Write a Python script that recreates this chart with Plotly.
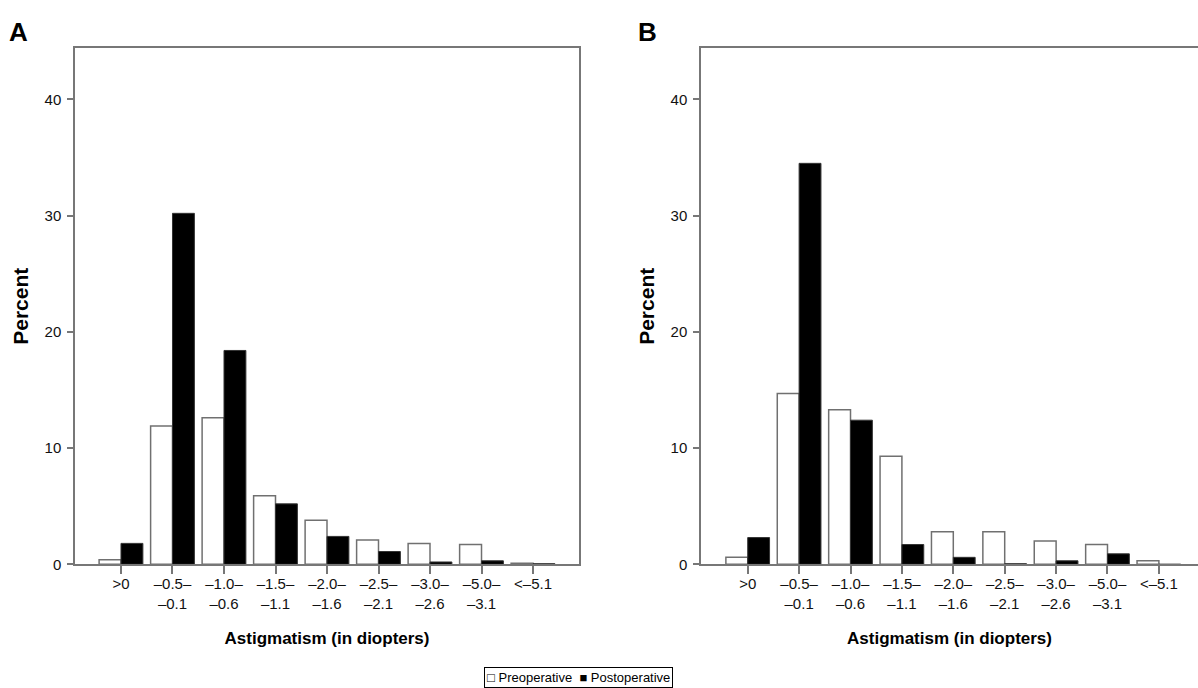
import plotly.graph_objects as go

categories = [">0", "–0.5–<br>–0.1", "–1.0–<br>–0.6", "–1.5–<br>–1.1", "–2.0–<br>–1.6",
              "–2.5–<br>–2.1", "–3.0–<br>–2.6", "–5.0–<br>–3.1", "<–5.1"]

a_pre = [0.4, 11.9, 12.6, 5.9, 3.8, 2.1, 1.8, 1.7, 0.1]
a_post = [1.8, 30.2, 18.4, 5.2, 2.4, 1.1, 0.2, 0.3, 0.05]
b_pre = [0.6, 14.7, 13.3, 9.3, 2.8, 2.8, 2.0, 1.7, 0.3]
b_post = [2.3, 34.5, 12.4, 1.7, 0.6, 0.05, 0.3, 0.9, 0.0]

y_ticks = [0, 10, 20, 30, 40]

W, H = 1198, 696
K = 688 / H  # vertical scale applied when the page is photographed

def px(x):
    return x / W

def py(y):
    return 1 - (y / K) / H

FONT = "Liberation Sans, Arial, sans-serif"
AX = "#777777"

fig = go.Figure()
idx = list(range(len(categories)))

def add_pair(pre, post, xa, ya):
    fig.add_trace(go.Bar(x=idx, y=pre, name="Preoperative", xaxis=xa, yaxis=ya,
                         marker=dict(color="white", line=dict(color="#707070", width=1.5)),
                         showlegend=False))
    fig.add_trace(go.Bar(x=idx, y=post, name="Postoperative", xaxis=xa, yaxis=ya,
                         marker=dict(color="black", line=dict(color="#333333", width=1)),
                         showlegend=False))

add_pair(a_pre, a_post, "x", "y")
add_pair(b_pre, b_post, "x2", "y2")

ydom = [py(564.3), py(48.3)]

common_x = dict(tickmode="array", tickvals=idx, ticktext=categories,
                ticks="outside", ticklen=8, tickcolor=AX, tickwidth=1.5,
                showline=True, linecolor=AX, linewidth=1.5,
                showgrid=False, zeroline=False, ticklabelstandoff=-3,
                tickfont=dict(family=FONT, size=15, color="#111"),
                title=dict(text="<b>Astigmatism (in diopters)</b>",
                           font=dict(family=FONT, size=17, color="#000"), standoff=22))
common_y = dict(tickmode="array", tickvals=y_ticks, ticks="outside", ticklen=6,
                tickcolor=AX, tickwidth=1.5, showline=True, linecolor=AX, linewidth=1.5,
                showgrid=False, zeroline=False, ticklabelstandoff=3,
                tickfont=dict(family=FONT, size=15, color="#111"),
                title=dict(text="<b>Percent</b>", font=dict(family=FONT, size=21, color="#000"),
                           standoff=10))

fig.update_layout(
    width=W, height=H,
    margin=dict(l=0, r=0, t=0, b=0),
    paper_bgcolor="white", plot_bgcolor="white",
    barmode="group", bargap=0.15, bargroupgap=0,
    xaxis=dict(domain=[px(75), px(579)], range=[-0.893, 8.893], mirror=True, anchor="y", **common_x),
    yaxis=dict(domain=ydom, range=[0, 44.4], mirror=True, anchor="x", **common_y),
    xaxis2=dict(domain=[px(701), 1.0], range=[-0.909, 8.761], mirror=True, anchor="y2", **common_x),
    yaxis2=dict(domain=ydom, range=[0, 44.4], mirror=False, anchor="x2", **common_y),
    annotations=[
        dict(text="<b>A</b>", x=px(7), y=py(32), xref="paper", yref="paper",
             xanchor="left", yanchor="middle", showarrow=False,
             font=dict(family=FONT, size=26, color="#000")),
        dict(text="<b>B</b>", x=px(636), y=py(32), xref="paper", yref="paper",
             xanchor="left", yanchor="middle", showarrow=False,
             font=dict(family=FONT, size=26, color="#000")),
        dict(text="□ Preoperative  ■ Postoperative", x=px(578), y=py(677),
             xref="paper", yref="paper", xanchor="center", yanchor="middle",
             showarrow=False, bordercolor="#000", borderwidth=1, borderpad=2,
             bgcolor="white", font=dict(family=FONT, size=13, color="#000")),
    ],
)

fig.write_html("out.html", config={"displayModeBar": False},
               post_script="document.body.style.margin='0px';document.body.style.overflow='hidden';")
